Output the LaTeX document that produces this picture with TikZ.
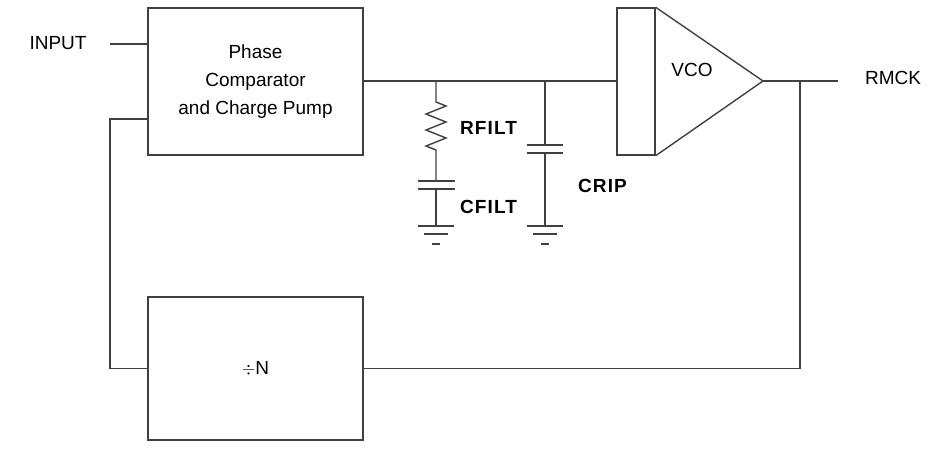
\documentclass[tikz,border=0pt]{standalone}
\usepackage{fontspec}
\setmainfont{Liberation Sans}
\usetikzlibrary{positioning}
\begin{document}
\begin{tikzpicture}[x=1pt,y=-1pt,line width=1.4pt,draw=black!75]
				\tikzset{bloc/.style={draw, minimum width=215pt, minimum height=147pt, align=center, font=\fontsize{19}{28}\selectfont},
				etiq/.style={font=\fontsize{19}{22}\selectfont\bfseries\addfontfeature{LetterSpace=6}, anchor=west},
				txt/.style={font=\fontsize{19}{22}\selectfont}};
				\useasboundingbox (0,0) rectangle (947,453);
				\node[bloc] (pcp) at (255.5,81.5) {Phase\\Comparator\\and Charge Pump};
				\node[bloc, minimum height=143pt] (div) at (255.5,368.5) {$\div$N};
				\node[draw, minimum width=38pt, minimum height=147pt, inner sep=0] (vin) at (636,81.5) {};
				\coordinate (apex) at (763,81);
				\draw (vin.north east) -- (apex) -- (vin.south east);
				\node[txt] (vco) at (692,70) {VCO};
				\node[txt] (in) at (58,43) {INPUT};
				\node[txt] (out) at (893,78) {RMCK};
				\coordinate (f) at (436,81);
				\coordinate (c) at (545,81);
				\coordinate (fb) at (800,81);
				\coordinate (g) at (110,119);
				% liaisons
				\draw (110,44) -- (148,44);
				\draw (363,81) -- (617,81);
				\draw (apex) -- (838,81);
				\draw (fb) |- (div.east);
				\draw (pcp.west |- g) -- (g) |- (div.west);
				% filtre
				\draw (f) -- (436,102) -- (446,106) -- (426,114) -- (446,122) -- (426,130) -- (446,138) -- (426,146) -- (436,150) -- (436,181);
				\draw (418,181) -- (455,181) (418,189) -- (455,189);
				\draw (436,189) -- (436,226);
				\draw (c) -- (545,145) (527,145) -- (563,145) (527,153) -- (563,153) (545,153) -- (545,226);
				\foreach \x in {436,545} {
					\draw (\x-18,226) -- (\x+18,226) (\x-12,234) -- (\x+12,234) (\x-4,244) -- (\x+4,244);
				}
				\node[etiq] (rf) at (456,128) {RFILT};
				\node[etiq] (cf) at (456,207) {CFILT};
				\node[etiq] (cr) at (574,186) {CRIP};
			\end{tikzpicture}
\end{document}
